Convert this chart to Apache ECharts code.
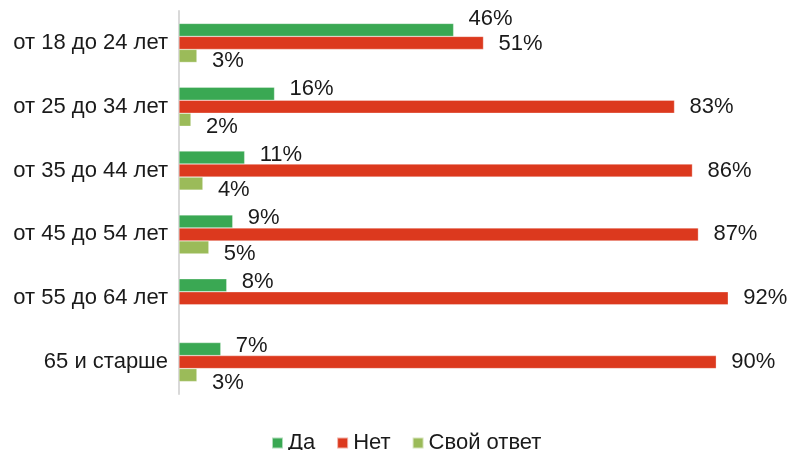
<!DOCTYPE html>
<html>
<head>
<meta charset="utf-8">
<script src="https://cdn.jsdelivr.net/npm/echarts@6/dist/echarts.min.js"></script>
<style>html,body{margin:0;padding:0;background:#fff}#c{width:789px;height:450px}</style>
</head>
<body>
<div id="c"></div>
<script>
const categories = ['от 18 до 24 лет', 'от 25 до 34 лет', 'от 35 до 44 лет', 'от 45 до 54 лет', 'от 55 до 64 лет', '65 и старше'];
const seriesNames = ['Да', 'Нет', 'Свой ответ'];
const yesValues = [46, 16, 11, 9, 8, 7];
const noValues = [51, 83, 86, 87, 92, 90];
const ownValues = [3, 2, 4, 5, null, 3];

// label vertical nudges (layout only)
const yesLabelShift = [-11, -5, -3, -3, -3, -3];
const noLabelShift = [1, 0, 0, 0, 0, 0];
const ownLabelShift = [5, 7, 6, 7, 0, 8];

const colors = ['#3aa853', '#dc391e', '#9bbb59'];
const font = 'Liberation Sans, Arial, sans-serif';

function mk(name, vals, shifts, color) {
  return {
    name: name,
    type: 'bar',
    barWidth: 13,
    barGap: '0%',
    itemStyle: { color: color, borderColor: 'rgba(255,255,255,0.6)', borderWidth: 0.5 },
    data: vals.map((v, i) => ({
      value: v === null ? '-' : v,
      label: { offset: [0, shifts[i]] }
    })),
    label: {
      show: true,
      position: 'right',
      distance: 15,
      formatter: p => (p.value === '-' || p.value == null) ? '' : p.value + '%',
      fontFamily: font,
      fontSize: 22,
      color: '#1a1a1a'
    }
  };
}

const chart = echarts.init(document.getElementById('c'));
chart.setOption({
  animation: false,
  color: colors,
  grid: { left: 179, right: 13, top: 11, bottom: 56, containLabel: false },
  xAxis: {
    type: 'value', min: 0, max: 100,
    show: false
  },
  yAxis: {
    type: 'category',
    inverse: true,
    data: categories,
    axisLine: { show: true, lineStyle: { color: '#d9d9d9', width: 2 } },
    axisTick: { show: false },
    axisLabel: { fontFamily: font, fontSize: 22, color: '#1a1a1a', margin: 11 }
  },
  legend: {
    data: seriesNames,
    left: 266,
    top: 427,
    itemWidth: 11,
    itemHeight: 11,
    itemGap: 21,
    icon: 'rect',
    textStyle: { fontFamily: font, fontSize: 22, color: '#1a1a1a' }
  },
  series: [
    mk(seriesNames[0], yesValues, yesLabelShift, colors[0]),
    mk(seriesNames[1], noValues, noLabelShift, colors[1]),
    mk(seriesNames[2], ownValues, ownLabelShift, colors[2])
  ]
});
</script>
</body>
</html>
